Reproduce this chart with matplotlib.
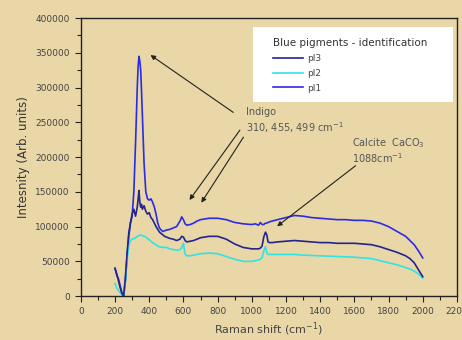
import matplotlib
matplotlib.use('Agg')
import matplotlib.pyplot as plt
from matplotlib.patches import Rectangle
from matplotlib.ticker import MultipleLocator

plt.rcParams['font.family'] = ['DejaVu Sans']

# Raman shift (cm-1)
shift = [200, 210, 220, 230, 240, 250, 260, 270, 280, 290,
         300, 310, 320, 330, 335, 340, 345, 350, 355, 360,
         370, 380, 390, 400, 410, 420, 430, 440, 450, 460,
         470, 480, 490, 500, 520, 540, 560, 580, 590, 600,
         610, 620, 640, 660, 680, 700, 750, 800, 850, 900,
         950, 1000, 1020, 1040, 1050, 1060, 1070, 1080, 1088, 1095,
         1105, 1120, 1150, 1200, 1250, 1300, 1350, 1400, 1450, 1500,
         1550, 1600, 1650, 1700, 1750, 1800, 1850, 1900, 1925, 1950,
         1975, 2000]

pl1 = [40000, 30000, 25000, 15000, 5000, 0, 20000, 55000, 85000, 105000,
       115000, 150000, 220000, 300000, 330000, 345000, 338000, 325000, 295000, 260000,
       190000, 150000, 140000, 138000, 140000, 135000, 128000, 118000, 105000, 98000,
       95000, 93000, 94000, 95000, 96000, 98000, 100000, 108000, 114000, 110000,
       104000, 102000, 103000, 105000, 108000, 110000, 112000, 112000, 110000, 106000,
       104000, 103000, 104000, 102000, 106000, 103000, 103000, 105000, 105000, 106000,
       107000, 108000, 110000, 113000, 116000, 115000, 113000, 112000, 111000, 110000,
       110000, 109000, 109000, 108000, 105000, 100000, 93000, 86000, 80000, 74000,
       65000, 55000]

pl3 = [40000, 32000, 22000, 12000, 4000, 0, 25000, 60000, 90000, 105000,
       118000, 125000, 115000, 128000, 140000, 152000, 135000, 128000, 132000, 125000,
       130000, 122000, 118000, 120000, 113000, 110000, 105000, 100000, 96000, 92000,
       90000, 88000, 86000, 85000, 83000, 82000, 80000, 82000, 86000, 85000,
       80000, 78000, 79000, 80000, 82000, 84000, 86000, 86000, 82000, 75000,
       70000, 68000, 68000, 68000, 69000, 72000, 85000, 92000, 88000, 78000,
       77000, 77000, 78000, 79000, 80000, 79000, 78000, 77000, 77000, 76000,
       76000, 76000, 75000, 74000, 71000, 67000, 63000, 58000, 54000, 48000,
       38000, 28000]

pl2 = [18000, 12000, 8000, 5000, 2000, 0, 20000, 50000, 72000, 80000,
       82000, 83000, 84000, 86000, 86500, 87000, 87500, 88000, 87500, 87000,
       86000, 85000, 83000, 81000, 79000, 77000, 75000, 74000, 72000, 71000,
       70500, 70000, 70000, 70000, 68000, 67000, 66000, 67000, 70000, 76000,
       60000, 58000, 58000, 59000, 60000, 61000, 62000, 61000, 57000, 53000,
       50000, 50000, 51000, 52000, 53000, 55000, 65000, 71000, 62000, 60000,
       60000, 60000, 60000, 60000, 60000, 59000, 58500, 58000, 57500, 57000,
       56500, 56000, 55000, 54000, 51000, 48000, 45000, 41000, 39000, 36000,
       32000, 26000]

bg = '#e9d7a8'
fig = plt.figure(figsize=(4.62, 3.40), dpi=100, facecolor=bg)
ax = fig.add_axes([0.175, 0.129, 0.814, 0.818], facecolor=bg)

l1, = ax.plot(shift, pl1, color='#2b2be6', lw=1.2, label='pl1')
l2, = ax.plot(shift, pl2, color='#30e4e4', lw=1.2, label='pl2')
l3, = ax.plot(shift, pl3, color='#24248e', lw=1.2, label='pl3')

ax.set_xlim(0, 2200)
ax.set_ylim(0, 400000)
ax.xaxis.set_major_locator(MultipleLocator(200))
ax.xaxis.set_minor_locator(MultipleLocator(100))
ax.yaxis.set_major_locator(MultipleLocator(50000))
ax.yaxis.set_minor_locator(MultipleLocator(25000))
ax.tick_params(which='both', direction='out', labelsize=6.5, labelcolor='#444444',
               colors='#222222', width=0.8, pad=4)
ax.tick_params(which='major', length=4)
ax.tick_params(which='minor', length=3)
for s in ax.spines.values():
    s.set_color('#222222')
    s.set_linewidth(1.0)

ax.set_xlabel('Raman shift (cm$^{-1}$)', fontsize=8, color='#444444', labelpad=3)
ax.set_ylabel('Intesnity (Arb. units)', fontsize=8.5, color='#333333', labelpad=4)

# white legend panel
ax.add_patch(Rectangle((0.457, 0.698), 0.532, 0.27, transform=ax.transAxes,
                       facecolor='white', edgecolor='none', zorder=4))
leg = ax.legend(handles=[l3, l2, l1], title='Blue pigments - identification',
                loc='upper left', bbox_to_anchor=(0.5106, 0.928), borderaxespad=0,
                borderpad=0, frameon=False, fontsize=6.5, title_fontsize=7.5,
                handlelength=3.3, handletextpad=0.5, labelspacing=0.65,
                alignment='left')
leg.set_zorder(5)
leg.get_title().set_color('#333333')
for t in leg.get_texts():
    t.set_color('#444444')

arr = dict(arrowstyle='-|>', color='#222222', lw=0.8, mutation_scale=7)
ax.annotate('', xy=(394, 349000), xytext=(905, 262000), arrowprops=arr)
ax.annotate('', xy=(626, 135000), xytext=(940, 242000), arrowprops=arr)
ax.annotate('', xy=(696, 131000), xytext=(960, 232000), arrowprops=arr)
ax.annotate('', xy=(1135, 98000), xytext=(1620, 190000), arrowprops=arr)

ax.text(965, 265000, 'Indigo', fontsize=7, color='#555555', va='center')
ax.text(965, 243000, '310, 455, 499 cm$^{-1}$', fontsize=7, color='#555555', va='center')
ax.text(1585, 220000, 'Calcite  CaCO$_3$', fontsize=7, color='#555555', va='center')
ax.text(1585, 198000, '1088cm$^{-1}$', fontsize=7, color='#555555', va='center')

fig.savefig('out.png', dpi=100, facecolor=bg)
